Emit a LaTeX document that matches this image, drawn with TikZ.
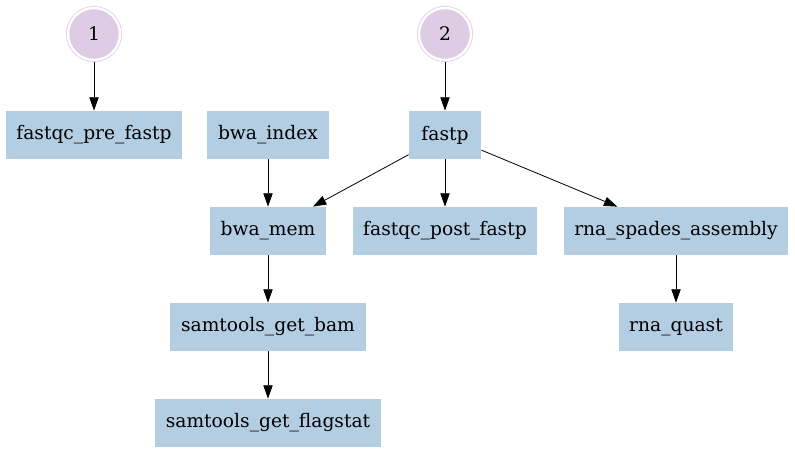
\documentclass[tikz,border=0pt]{standalone}
\usepackage{fontspec}
\setmainfont{DejaVu Serif}
\usetikzlibrary{arrows.meta}
\definecolor{taskblue}{HTML}{B3CDE3}
\definecolor{inputlilac}{HTML}{DECBE4}

\begin{document}
\begin{tikzpicture}[x=.75pt, y=-.75pt, font=\fontsize{14}{16}\selectfont,
    >={Triangle[length=10pt,width=7pt]}, line width=.6pt,
    task/.style={rectangle, fill=taskblue, minimum height=36pt, minimum width=54pt, inner xsep=8pt, inner ysep=0pt},
    input/.style={circle, fill=inputlilac, draw=inputlilac, double=white, double distance=1.8pt,
      line width=.6pt, minimum size=39pt, inner sep=0pt, outer sep=1.5pt}]
    \useasboundingbox (0,0) rectangle (795,453);
    \node[input] (in1) at (94,34) {1};
    \node[input] (in2) at (445,34) {2};
    \node[task] (prefastqc) at (94,135) {fastqc\_pre\_fastp};
    \node[task] (bwaindex) at (268,135) {bwa\_index};
    \node[task] (fastp) at (445,135) {fastp};
    \node[task] (bwamem) at (268,231) {bwa\_mem};
    \node[task] (postfastqc) at (445,231) {fastqc\_post\_fastp};
    \node[task] (spades) at (676,231) {rna\_spades\_assembly};
    \node[task] (getbam) at (268,327) {samtools\_get\_bam};
    \node[task] (quast) at (676,327) {rna\_quast};
    \node[task] (flagstat) at (268,423) {samtools\_get\_flagstat};
    \foreach \a/\b in {in1/prefastqc,in2/fastp,bwaindex/bwamem,fastp/bwamem,fastp/postfastqc,
      fastp/spades,bwamem/getbam,getbam/flagstat,spades/quast}
      \draw[->] (\a) -- (\b);
  \end{tikzpicture}
\end{document}
